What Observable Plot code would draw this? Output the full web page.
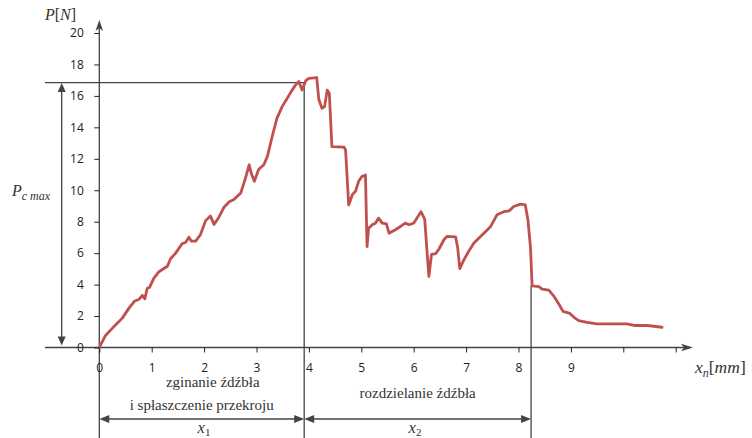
<!DOCTYPE html>
<html>
<head>
<meta charset="utf-8">
<script src="https://cdn.jsdelivr.net/npm/d3@7"></script>
<script src="https://cdn.jsdelivr.net/npm/@observablehq/plot@0.6"></script>
<style>
  body { margin: 0; background: #fff; }
  svg { display: block; }
</style>
</head>
<body>
<div id="chart"></div>
<script>
// ---- data ----
const dispX = [0, 0.11, 0.3, 0.43, 0.56, 0.66, 0.75, 0.81, 0.86, 0.905, 0.95, 1.03, 1.13, 1.23, 1.29, 1.35, 1.44, 1.57, 1.64, 1.70, 1.745, 1.83, 1.92, 2.02, 2.11, 2.18, 2.27, 2.37, 2.47, 2.56, 2.69, 2.78, 2.85, 2.89, 2.95, 3.03, 3.13, 3.2, 3.29, 3.38, 3.48, 3.58, 3.67, 3.73, 3.8, 3.86, 3.93, 3.99, 4.14, 4.18, 4.24, 4.29, 4.34, 4.38, 4.43, 4.66, 4.69, 4.75, 4.82, 4.88, 4.94, 5.0, 5.07, 5.1, 5.13, 5.2, 5.26, 5.32, 5.39, 5.47, 5.52, 5.64, 5.74, 5.83, 5.9, 5.99, 6.13, 6.2, 6.28, 6.33, 6.41, 6.47, 6.57, 6.63, 6.79, 6.83, 6.87, 6.95, 7.04, 7.14, 7.3, 7.46, 7.58, 7.71, 7.81, 7.9, 8.03, 8.12, 8.17, 8.22, 8.25, 8.38, 8.44, 8.57, 8.66, 8.76, 8.84, 8.97, 9.05, 9.14, 9.3, 9.49, 9.81, 10.06, 10.22, 10.45, 10.73];
const forceP = [0.1, 0.8, 1.47, 1.9, 2.55, 2.97, 3.1, 3.35, 3.13, 3.8, 3.85, 4.43, 4.85, 5.07, 5.2, 5.68, 6.0, 6.63, 6.73, 7.05, 6.8, 6.8, 7.2, 8.1, 8.4, 7.86, 8.3, 8.95, 9.3, 9.44, 9.86, 10.8, 11.65, 11.12, 10.6, 11.35, 11.65, 12.2, 13.45, 14.6, 15.35, 15.9, 16.4, 16.7, 16.95, 16.4, 17.0, 17.15, 17.2, 15.8, 15.25, 15.35, 16.4, 16.2, 12.8, 12.78, 12.6, 9.1, 9.75, 9.97, 10.6, 10.9, 11.0, 6.45, 7.62, 7.84, 7.94, 8.26, 7.94, 7.9, 7.3, 7.52, 7.73, 7.94, 7.84, 7.94, 8.67, 8.2, 4.56, 5.95, 6.0, 6.28, 6.9, 7.1, 7.07, 6.37, 5.05, 5.62, 6.15, 6.68, 7.2, 7.73, 8.47, 8.67, 8.72, 9.0, 9.15, 9.1, 8.16, 6.36, 3.95, 3.9, 3.75, 3.68, 3.32, 2.8, 2.33, 2.2, 1.95, 1.74, 1.63, 1.53, 1.53, 1.53, 1.43, 1.43, 1.32];

const yTicks = [0, 2, 4, 6, 8, 10, 12, 14, 16, 18, 20];
const xTicks = [0, 1, 2, 3, 4, 5, 6, 7, 8, 9, 10, 11];
const xTickLabels = ["0", "1", "2", "3", "4", "5", "6", "7", "8", "9", "", ""];

const pcMax = 16.85;     // P_c max level
const x1End = 3.91;      // end of phase x1
const x2End = 8.24;      // end of phase x2
const pAtX2End = 3.95;   // force where the x2 boundary meets the curve

const phase1Lines = ["zginanie źdźbła", "i spłaszczenie przekroju"];
const phase2Label = "rozdzielanie źdźbła";

// ---- styling ----
const curveColor = "#c0504d";
const axisColor = "#444";
const textColor = "#333";

const curve = dispX.map((x, i) => ({x, p: forceP[i]}));

const plot = Plot.plot({
  width: 752,
  height: 438,
  marginLeft: 99.3,
  marginRight: 76.3,
  marginTop: 33,
  marginBottom: 90.5,
  x: {domain: [0, 11]},
  y: {domain: [0, 20]},
  style: {fontFamily: "'Open Sans', sans-serif", fontSize: "12px", color: "#222", background: "#fff", overflow: "visible"},
  marks: [
    Plot.axisY(yTicks, {tickSize: 5, tickPadding: 11, label: null}),
    Plot.axisX(xTicks, {tickSize: 5, tickPadding: 10, label: null,
      tickFormat: (d) => xTickLabels[xTicks.indexOf(d)]}),
    Plot.line(curve, {x: "x", y: "p", stroke: curveColor, strokeWidth: 2.8, strokeLinejoin: "round"})
  ]
});
document.getElementById("chart").appendChild(plot);

// ---- annotations drawn with Plot's scales ----
const X = (v) => plot.scale("x").apply(v);
const Y = (v) => plot.scale("y").apply(v);
const svg = d3.select(plot);
const g = svg.insert("g", ":first-child").attr("stroke", axisColor).attr("stroke-width", 1.3).attr("fill", "none");
const ga = svg.append("g").attr("fill", axisColor);

function seg(x1, y1, x2, y2) {
  g.append("line").attr("x1", x1).attr("y1", y1).attr("x2", x2).attr("y2", y2);
}
function head(x, y, angle, len = 9, half = 3.5, notch = 0) {
  ga.append("path")
    .attr("d", `M0,0L${-len},${-half}L${-len + notch},0L${-len},${half}Z`)
    .attr("transform", `translate(${x},${y}) rotate(${angle})`);
}

const leftEdge = 45, bottomEdge = 438, axisTip = 693, yTip = 20;
const pcArrowX = 61.7, dimY = 419;

// axes
seg(leftEdge, Y(0), axisTip - 4, Y(0));
head(axisTip, Y(0), 0, 12, 3.8, 3);
seg(X(0), bottomEdge, X(0), yTip + 4);
head(X(0), yTip, -90, 11, 3.8, 3);

// P_c max level and boundaries
seg(leftEdge, Y(pcMax), X(x1End), Y(pcMax));
seg(X(x1End), Y(pcMax), X(x1End), bottomEdge);
seg(X(x2End), Y(pAtX2End), X(x2End), bottomEdge);

// P_c max double arrow
seg(pcArrowX, Y(pcMax) + 6, pcArrowX, Y(0) - 6);
head(pcArrowX, Y(pcMax) + 0.5, -90, 9, 4);
head(pcArrowX, Y(0) - 2, 90, 9, 4);

// dimension arrows
seg(X(0) + 4, dimY, X(x1End) - 4, dimY);
head(X(0), dimY, 180, 10, 4);
head(X(x1End), dimY, 0, 10, 4);
seg(X(x1End) + 4, dimY, X(x2End) - 4, dimY);
head(X(x1End), dimY, 180, 10, 4);
head(X(x2End), dimY, 0, 10, 4);

// ---- text ----
const serif = "'Liberation Serif', 'Times New Roman', serif";
function label(x, y, anchor, size) {
  return svg.append("text").attr("x", x).attr("y", y).attr("text-anchor", anchor)
    .style("font-family", serif).style("font-size", size + "px").style("fill", textColor);
}
function tsp(t, text, opts = {}) {
  const s = t.append("tspan").text(text);
  if (opts.italic) s.style("font-style", "italic");
  if (opts.size) s.style("font-size", opts.size + "px");
  if (opts.dy != null) s.attr("dy", opts.dy);
  return s;
}
label((X(0) + X(x1End)) / 2 + 11, 387, "middle", 15).text(phase1Lines[0]);
label((X(0) + X(x1End)) / 2, 410, "middle", 15).text(phase1Lines[1]);
label((X(x1End) + X(x2End)) / 2, 398, "middle", 15).text(phase2Label);

// P[N]
{
  const t = label(45, 20, "start", 16);
  tsp(t, "P", {italic: true});
  tsp(t, "[");
  tsp(t, "N", {italic: true});
  tsp(t, "]");
}
// P_c max
{
  const t = label(12, 196, "start", 16);
  tsp(t, "P", {italic: true});
  tsp(t, "c max", {italic: true, size: 12, dy: 3.5});
}
// x_n[mm]
{
  const t = label(695, 373, "start", 17.5);
  tsp(t, "x", {italic: true});
  tsp(t, "n", {italic: true, size: 12, dy: 4});
  tsp(t, "[", {dy: -4});
  tsp(t, "mm", {italic: true});
  tsp(t, "]");
}
// x_1, x_2
function xsub(cx, sub) {
  const t = label(cx, 433, "middle", 16.5);
  tsp(t, "x", {italic: true});
  tsp(t, sub, {size: 11, dy: 2.5});
}
xsub(204, "1");
xsub(415, "2");
</script>
</body>
</html>
